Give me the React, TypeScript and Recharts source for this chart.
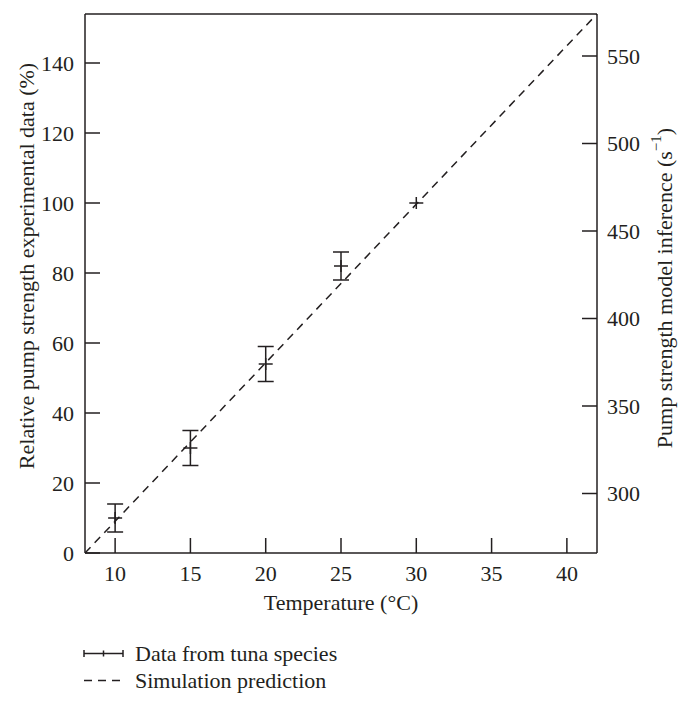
import React from 'react';
import { ComposedChart, Line, Scatter, ErrorBar, XAxis, YAxis, Legend, Label } from 'recharts';

// measured points (temperature in °C, relative pump strength in %)
const temps = [10, 15, 20, 25, 30];
const pumpStrength = [10, 30, 54, 82, 100];
const pumpError = [4, 5, 5, 4, 0];

const simTemps = [8, 42];
const simValues = [0, 154];

const xTicks = [10, 15, 20, 25, 30, 35, 40];
const leftTicks = [0, 20, 40, 60, 80, 100, 120, 140];
const rightTicks = [300, 350, 400, 450, 500, 550];

const INK = '#231f20';
const FONT = '"Liberation Serif", "DejaVu Serif", serif';
const FS = 22;

const tunaData = temps.map((t, i) => ({ t, val: pumpStrength[i], err: pumpError[i] }));
const simData = simTemps.map((t, i) => ({ t, sim: simValues[i] }));

const tickStyle = { fontSize: FS, fill: INK, fontFamily: FONT };
const axisLine = { stroke: INK, strokeWidth: 1.5 };
const tickLine = { stroke: INK, strokeWidth: 1.5 };

const PlusMarker = (props: any) => {
  const { cx, cy } = props;
  if (cx == null || cy == null) return null;
  return (
    <g stroke={INK} strokeWidth={1.5}>
      <line x1={cx - 7} y1={cy} x2={cx + 7} y2={cy} />
      <line x1={cx} y1={cy - 6} x2={cx} y2={cy + 6} />
    </g>
  );
};

const LegendBox = () => (
  <div style={{ fontFamily: FONT, fontSize: FS, color: INK, whiteSpace: 'nowrap' }}>
    <div style={{ display: 'flex', alignItems: 'center', height: 27 }}>
      <svg width={52} height={27}>
        <g stroke={INK} strokeWidth={1.5}>
          <line x1={1} y1={13.5} x2={40} y2={13.5} />
          <line x1={1} y1={10} x2={1} y2={17} />
          <line x1={40} y1={10} x2={40} y2={17} />
          <line x1={20.5} y1={10.5} x2={20.5} y2={16.5} />
        </g>
      </svg>
      <span>Data from tuna species</span>
    </div>
    <div style={{ display: 'flex', alignItems: 'center', height: 27 }}>
      <svg width={52} height={27}>
        <line x1={1} y1={13.5} x2={40} y2={13.5} stroke={INK} strokeWidth={1.5} strokeDasharray="8 6" />
      </svg>
      <span>Simulation prediction</span>
    </div>
  </div>
);

export default function App() {
  return (
    <ComposedChart
      width={672}
      height={697}
      margin={{ top: 5, right: 0, bottom: 0, left: 0 }}
      style={{ fontFamily: FONT }}
    >
      <XAxis
        dataKey="t"
        type="number"
        domain={[8, 42]}
        ticks={xTicks}
        allowDataOverflow
        height={152}
        axisLine={axisLine}
        tickLine={tickLine}
        tickSize={-15}
        tickMargin={27}
        tick={tickStyle}
      >
        <Label
          content={({ viewBox }: any) => (
            <text
              x={viewBox.x + viewBox.width / 2}
              y={viewBox.y + 57}
              textAnchor="middle"
              fontSize={FS}
              fill={INK}
              fontFamily={FONT}
            >
              Temperature (°C)
            </text>
          )}
        />
      </XAxis>
      <XAxis
        xAxisId="top"
        orientation="top"
        type="number"
        domain={[8, 42]}
        ticks={xTicks}
        allowDataOverflow
        height={1}
        axisLine={axisLine}
        tickLine={tickLine}
        tickSize={-15}
        tickFormatter={() => ''}
      />
      <YAxis
        type="number"
        domain={[0, 154]}
        ticks={leftTicks}
        allowDataOverflow
        width={77}
        axisLine={axisLine}
        tickLine={tickLine}
        tickSize={-15}
        tickMargin={26}
        tick={tickStyle}
      >
        <Label
          content={() => {
            const cx = 18;
            const cy = 258;
            return (
              <text
                x={cx}
                y={cy}
                transform={`rotate(-90 ${cx} ${cy})`}
                textAnchor="middle"
                dominantBaseline="central"
                fontSize={FS}
                fill={INK}
                fontFamily={FONT}
              >
                Relative pump strength experimental data (%)
              </text>
            );
          }}
        />
      </YAxis>
      <YAxis
        yAxisId="right"
        orientation="right"
        type="number"
        domain={[266, 574]}
        ticks={rightTicks}
        allowDataOverflow
        width={83}
        axisLine={axisLine}
        tickLine={tickLine}
        tickSize={-15}
        tickMargin={25}
        tick={tickStyle}
      >
        <Label
          content={({ viewBox }: any) => {
            const cx = viewBox.x + 67;
            const cy = 280;
            return (
              <text
                x={cx}
                y={cy}
                transform={`rotate(-90 ${cx} ${cy})`}
                textAnchor="middle"
                dominantBaseline="central"
                fontSize={FS}
                fill={INK}
                fontFamily={FONT}
              >
                Pump strength model inference (s
                <tspan dy={-8} fontSize={15} fill={INK}>−1</tspan>
                <tspan dy={8} fill={INK}>)</tspan>
              </text>
            );
          }}
        />
      </YAxis>
      <Line
        data={simData}
        dataKey="sim"
        type="linear"
        stroke={INK}
        strokeWidth={1.5}
        strokeDasharray="8 6"
        dot={false}
        activeDot={false}
        isAnimationActive={false}
        legendType="none"
      />
      <Scatter data={tunaData} dataKey="val" shape={PlusMarker} isAnimationActive={false}>
        <ErrorBar dataKey="err" direction="y" width={8} stroke={INK} strokeWidth={1.5} isAnimationActive={false} />
      </Scatter>
      <Legend
        layout="vertical"
        align="center"
        verticalAlign="middle"
        content={() => <LegendBox />}
        wrapperStyle={{ left: 75, top: 632, bottom: 'auto', width: 'auto', height: 'auto' }}
      />
    </ComposedChart>
  );
}
